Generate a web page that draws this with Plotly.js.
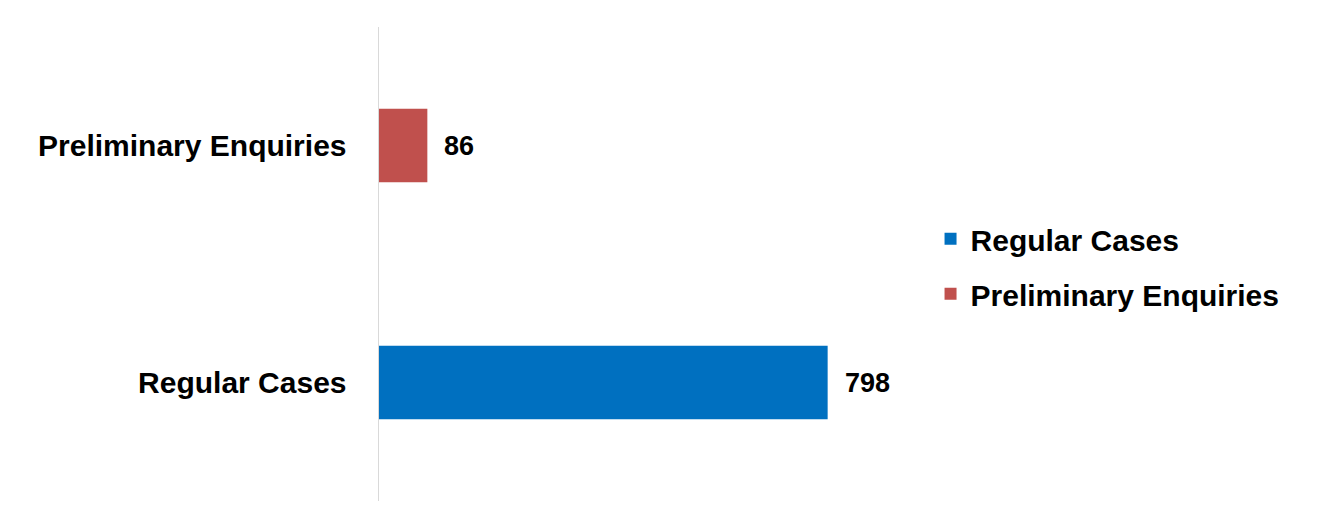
<!DOCTYPE html>
<html>
<head>
<meta charset="utf-8">
<script src="https://cdn.plot.ly/plotly-3.0.1.min.js"></script>
<style>html,body{margin:0;padding:0;background:#fff;}#chart{width:1317px;height:531px;}</style>
</head>
<body>
<div id="chart"></div>
<script>
const categories = ["Regular Cases", "Preliminary Enquiries"];
const seriesNames = ["Regular Cases", "Preliminary Enquiries"];
const values = [798, 86];
const colors = ["#0070C0", "#C0504D"];

const FONT = '"Liberation Sans", Arial, sans-serif';

const traces = seriesNames.map((name, i) => ({
  type: 'bar',
  orientation: 'h',
  name: name,
  y: [categories[i]],
  x: [values[i]],
  width: 0.31,
  marker: {color: colors[i]},
  legendgroup: 'g' + i,
  hoverinfo: 'x+y'
}));

const annotations = values.map((v, i) => ({
  x: v, y: categories[i], xref: 'x', yref: 'y',
  text: '<b>' + v + '</b>', showarrow: false,
  xanchor: 'left', xshift: 15,
  font: {family: FONT, size: 27, color: '#000'}
}));

const layout = {
  width: 1317, height: 531,
  margin: {l: 379, r: 432, t: 27, b: 30},
  paper_bgcolor: '#fff', plot_bgcolor: '#fff',
  barmode: 'overlay',
  showlegend: true,
  legend: {
    x: 1.09, xanchor: 'left', y: 0.495, yanchor: 'middle',
    traceorder: 'grouped', tracegroupgap: 13,
    font: {family: FONT, size: 30, color: '#000', weight: 'bold'},
    itemwidth: 30
  },
  xaxis: {range: [0, 900], visible: false, showgrid: false, zeroline: false},
  yaxis: {
    type: 'category', categoryorder: 'array', categoryarray: categories,
    range: [-0.5, 1.5],
    showline: true, linecolor: '#D9D9D9', linewidth: 1.5,
    showgrid: false, zeroline: false, ticks: '',
    ticklabelstandoff: 25,
    tickfont: {family: FONT, size: 30, color: '#000', weight: 'bold'}
  },
  annotations: annotations
};

Plotly.newPlot('chart', traces, layout, {displayModeBar: false, staticPlot: true});
</script>
</body>
</html>
